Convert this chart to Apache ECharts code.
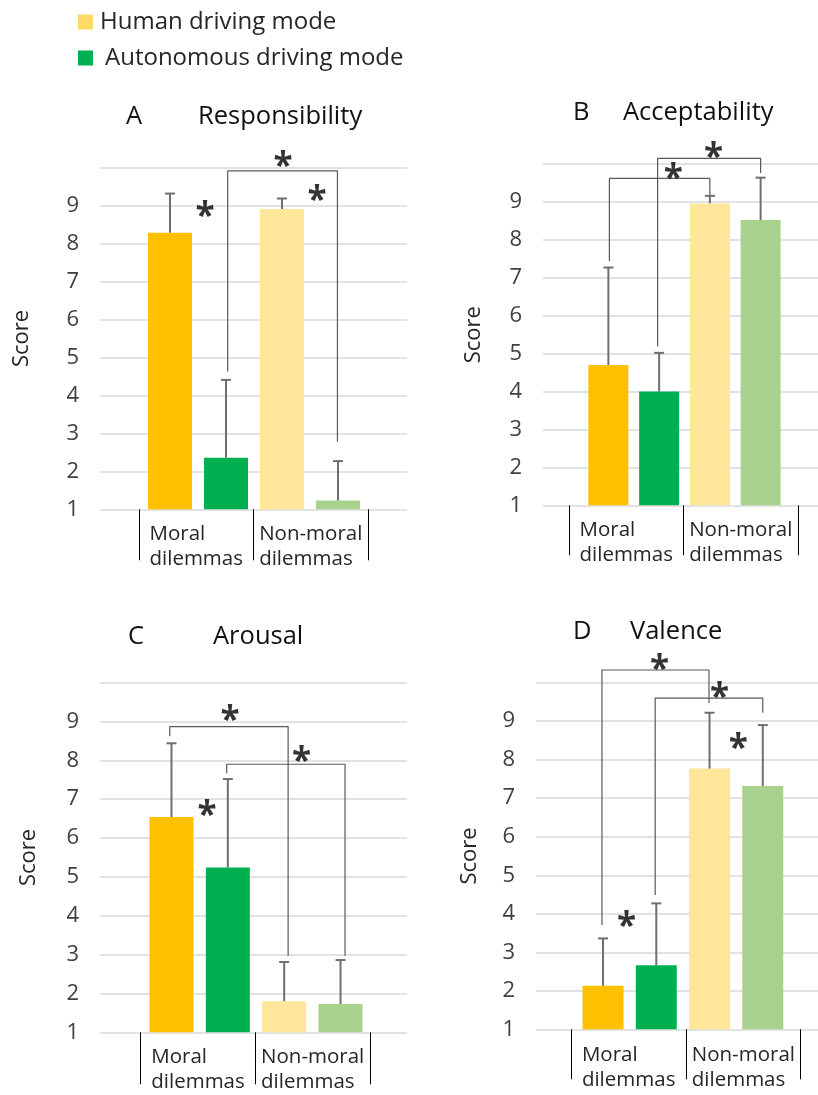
<!DOCTYPE html>
<html><head><meta charset="utf-8">
<script src="https://cdn.jsdelivr.net/npm/echarts@6/dist/echarts.min.js"></script>
<style>html,body{margin:0;padding:0;background:#fff}#c{width:818px;height:1095px}</style>
</head><body><div id="c"></div>
<script>
// ---------- data ----------
const seriesNames = ['Human driving mode', 'Autonomous driving mode'];
const groupLabels = ['Moral\ndilemmas', 'Non-moral\ndilemmas'];
const barSlots = ['Moral human', 'Moral autonomous', 'Non-moral human', 'Non-moral autonomous'];
const panelLetters = ['A', 'B', 'C', 'D'];
const panelTitles = ['Responsibility', 'Acceptability', 'Arousal', 'Valence'];
const yAxisName = 'Score';
const yMin = 1, yMax = 10, yStep = 1;

// means [moral-human, moral-autonomous, nonmoral-human, nonmoral-autonomous]
const meanA = [8.29, 2.36, 8.91, 1.23];
const upperA = [9.32, 4.41, 9.19, 2.27];
const meanB = [4.70, 4.00, 8.96, 8.52];
const upperB = [7.27, 5.02, 9.16, 9.64];
const meanC = [6.54, 5.24, 1.80, 1.73];
const upperC = [8.44, 7.52, 2.81, 2.86];
const meanD = [2.13, 2.66, 7.77, 7.32];
const upperD = [3.36, 4.27, 9.22, 8.90];

// significance brackets: [xLeft, yLeftEnd, yTop, xRight, yRightEnd] (bar slot index, score)
const bracketsA = [[1.03, 4.63, 9.92, 2.99, 2.78]];
const bracketsB = [[0.02, 7.44, 9.62, 2.0, 9.18], [0.97, 5.19, 10.15, 3.0, 9.76]];
const bracketsC = [[-0.03, 8.62, 8.87, 2.07, 2.97], [0.98, 7.67, 7.90, 3.08, 2.97]];
const bracketsD = [[-0.02, 3.71, 10.33, 1.99, 9.47], [0.98, 4.49, 9.60, 3.0, 9.22]];
// significance stars: [x (bar slot index), score]
const starsA = [[2.02, 10.26], [0.625, 8.94], [2.625, 9.37]];
const starsB = [[1.28, 9.84], [2.07, 10.39]];
const starsC = [[1.04, 9.24], [2.31, 8.20], [0.63, 6.80]];
const starsD = [[1.06, 10.57], [2.19, 9.84], [2.54, 8.52], [0.44, 3.88]];

// ---------- styling / layout ----------
const FONT = 'Open Sans';
const colHuman = ['#FFC000', '#FFE699'];
const colAuto = ['#00B050', '#A9D18E'];
const layout = [
  {bg:{left:100,right:411,top:167.75,bottom:585.7}, bars:{left:142,right:452}, lab:{left:139,right:450}, bw:44, off:11, tick:51, letter:[126,117], title:[198,117], nameGap:67},
  {bg:{left:543,right:0,top:164,bottom:589.7}, bars:{left:583,right:32}, lab:{left:569,right:20}, bw:40, off:11, tick:50, letter:[573,113], title:[623,113], nameGap:58},
  {bg:{left:100,right:411,top:682.7,bottom:62.7}, bars:{left:143.3,right:449.3}, lab:{left:140.7,right:448}, bw:44, off:11, tick:52, letter:[128,637], title:[213,637], nameGap:60},
  {bg:{left:536,right:0,top:682.7,bottom:65.7}, bars:{left:576.4,right:28.6}, lab:{left:571.3,right:17.3}, bw:41, off:12, tick:50, letter:[573,632], title:[630,632], nameGap:55}
];
const panels = [
  {mean:meanA, upper:upperA, brackets:bracketsA, stars:starsA},
  {mean:meanB, upper:upperB, brackets:bracketsB, stars:starsB},
  {mean:meanC, upper:upperC, brackets:bracketsC, stars:starsC},
  {mean:meanD, upper:upperD, brackets:bracketsD, stars:starsD}
];

const grid = [], xAxis = [], yAxis = [], series = [], title = [];
panels.forEach((p, i) => {
  const L = layout[i];
  const gBg = grid.length;
  grid.push(Object.assign({outerBoundsMode:'none', containLabel:false}, L.bg));
  grid.push({outerBoundsMode:'none', containLabel:false, left:L.bars.left, right:L.bars.right, top:L.bg.top, bottom:L.bg.bottom});
  grid.push({outerBoundsMode:'none', containLabel:false, left:L.lab.left, right:L.lab.right, top:L.bg.top, bottom:L.bg.bottom});
  const gBar = gBg + 1, gLab = gBg + 2;

  // background axis with gridlines and labels
  xAxis.push({gridIndex:gBg, type:'category', data:[''], show:false});
  yAxis.push({gridIndex:gBg, type:'value', min:yMin, max:yMax, interval:yStep,
    axisLine:{show:false}, axisTick:{show:false},
    axisLabel:{margin:21, fontSize:22, color:'#404040', fontFamily:FONT, formatter:v => v >= yMax ? '' : String(v)},
    splitLine:{lineStyle:{color:'#d9d9d9', width:1.5}},
    name:yAxisName, nameLocation:'middle', nameGap:L.nameGap,
    nameTextStyle:{fontSize:22, color:'#262626', fontFamily:FONT}});
  // bar axes
  const xBar = xAxis.length;
  xAxis.push({gridIndex:gBar, type:'category', data:barSlots, show:false});
  const xAnn = xAxis.length;
  xAxis.push({gridIndex:gBar, type:'value', min:-0.5, max:barSlots.length - 0.5, show:false});
  const yBar = yAxis.length;
  yAxis.push({gridIndex:gBar, type:'value', min:yMin, max:yMax, interval:yStep, show:false});
  // group label axis
  xAxis.push({gridIndex:gLab, type:'category', data:groupLabels, position:'bottom', offset:L.off,
    axisLine:{show:false},
    axisTick:{show:true, interval:0, length:L.tick, lineStyle:{color:'#000', width:1}},
    axisLabel:{interval:0, margin:1, formatter:v => v.split('\n').map(s => '{t|' + s + '}').join('\n'),
      rich:{t:{align:'left', fontSize:20.5, lineHeight:25.5, color:'#262626', fontFamily:FONT}}}});
  yAxis.push({gridIndex:gLab, type:'value', min:0, max:1, show:false});

  series.push({name:seriesNames[0], type:'bar', xAxisIndex:xBar, yAxisIndex:yBar, barWidth:L.bw, barGap:'-100%',
    itemStyle:{color:colHuman[0]},
    data:p.mean.map((v, k) => k % 2 === 0 ? {value:v, itemStyle:{color:colHuman[k >> 1]}} : '-')});
  series.push({name:seriesNames[1], type:'bar', xAxisIndex:xBar, yAxisIndex:yBar, barWidth:L.bw, barGap:'-100%',
    itemStyle:{color:colAuto[0]},
    data:p.mean.map((v, k) => k % 2 === 1 ? {value:v, itemStyle:{color:colAuto[k >> 1]}} : '-')});
  // error bars
  series.push({type:'custom', xAxisIndex:xBar, yAxisIndex:yBar, z:3, silent:true,
    data:p.mean.map((v, k) => [k, v, p.upper[k]]),
    renderItem:(params, api) => {
      const a = api.coord([api.value(0), api.value(1)]);
      const b = api.coord([api.value(0), api.value(2)]);
      const st = {stroke:'#6f6f6f', lineWidth:2};
      return {type:'group', children:[
        {type:'line', shape:{x1:a[0], y1:a[1], x2:b[0], y2:b[1]}, style:st},
        {type:'line', shape:{x1:b[0]-5, y1:b[1], x2:b[0]+5, y2:b[1]}, style:st}
      ]};
    }});
  // brackets
  p.brackets.forEach(br => {
    series.push({type:'line', xAxisIndex:xAnn, yAxisIndex:yBar, symbol:'none', clip:false, silent:true, z:4,
      lineStyle:{color:'#595959', width:1.2},
      data:[[br[0], br[1]], [br[0], br[2]], [br[3], br[2]], [br[3], br[4]]]});
  });
  // stars
  series.push({type:'scatter', xAxisIndex:xAnn, yAxisIndex:yBar, clip:false, silent:true, z:5,
    symbol:'circle', symbolSize:1, itemStyle:{color:'rgba(0,0,0,0)'},
    label:{show:true, position:'inside', formatter:'*', fontSize:35, fontWeight:'bold', color:'#000', fontFamily:FONT, offset:[0, 9]},
    data:p.stars});

  title.push({text:panelLetters[i], left:L.letter[0], top:L.letter[1] - 16, padding:0,
    textStyle:{fontSize:25.5, fontWeight:'normal', color:'#111', fontFamily:FONT, lineHeight:32}});
  title.push({text:panelTitles[i], left:L.title[0], top:L.title[1] - 16, padding:0,
    textStyle:{fontSize:25.5, fontWeight:'normal', color:'#111', fontFamily:FONT, lineHeight:32}});
});

const chart = echarts.init(document.getElementById('c'), null, {renderer:'canvas'});
chart.setOption({
  animation:false,
  backgroundColor:'#fff',
  title:title,
  legend:{orient:'vertical', left:73, top:5, itemWidth:15, itemHeight:15, itemGap:12, icon:'rect',
    textStyle:{fontSize:24, color:'#262626', fontFamily:FONT, lineHeight:24},
    data:[
      {name:seriesNames[0], itemStyle:{color:'#FFD966'}, textStyle:{padding:[0,0,0,2]}},
      {name:seriesNames[1], itemStyle:{color:'#00B050'}, textStyle:{padding:[0,0,0,7]}}
    ]},
  grid:grid, xAxis:xAxis, yAxis:yAxis, series:series
});
</script></body></html>
